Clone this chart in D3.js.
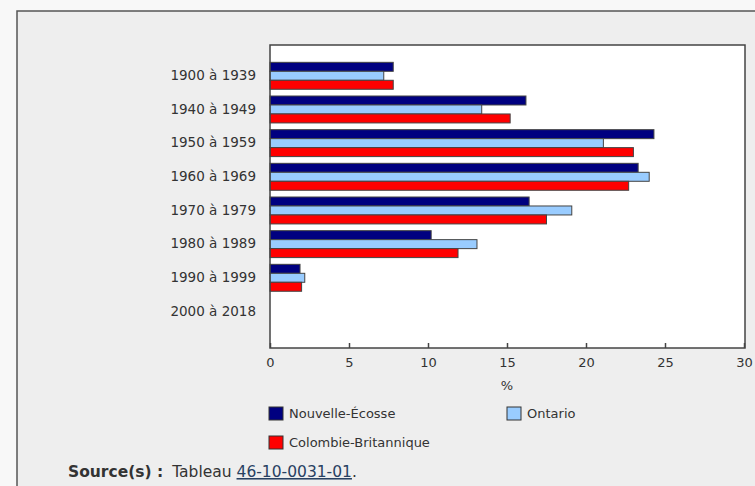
<!DOCTYPE html>
<html>
<head>
<meta charset="utf-8">
<script src="https://cdn.jsdelivr.net/npm/d3@7"></script>
<style>
  body { margin: 0; background: #f8f8f8; }
  svg { display: block; }
</style>
</head>
<body>
<svg id="chart" width="755" height="486"></svg>
<script>
// periods on the y axis
const periods = ["1900 à 1939", "1940 à 1949", "1950 à 1959", "1960 à 1969",
  "1970 à 1979", "1980 à 1989", "1990 à 1999", "2000 à 2018"];
const seriesNames = ["Nouvelle-Écosse", "Ontario", "Colombie-Britannique"];
const novaScotia = [7.8, 16.2, 24.3, 23.3, 16.4, 10.2, 1.9, null];
const ontario = [7.2, 13.4, 21.1, 24.0, 19.1, 13.1, 2.2, null];
const britishColumbia = [7.8, 15.2, 23.0, 22.7, 17.5, 11.9, 2.0, null];
const xTicks = [0, 5, 10, 15, 20, 25, 30];
const colors = ["#000080", "#99ccff", "#ff0000"];

const seriesValues = [novaScotia, ontario, britishColumbia];
const rows = periods.map((p, i) => ({
  period: p,
  values: seriesNames.map((name, j) => ({ name, value: seriesValues[j][i] }))
}));

const plot = { left: 270, right: 745, top: 45, bottom: 348 };
const textColor = "#333";

const svg = d3.select("#chart");

// panel
svg.append("rect")
  .attr("x", 17).attr("y", 11)
  .attr("width", 760).attr("height", 500)
  .attr("fill", "#eeeeee")
  .attr("stroke", "#555").attr("stroke-width", 1.5);

const x = d3.scaleLinear()
  .domain([0, 30])
  .range([plot.left, plot.left + 474]);

const y = d3.scaleBand()
  .domain(periods)
  .range([plot.top, plot.bottom])
  .paddingInner(0)
  .paddingOuter(0.5);

const ySub = d3.scaleBand()
  .domain(seriesNames)
  .range([0, y.bandwidth() * 0.8]);

const color = d3.scaleOrdinal().domain(seriesNames).range(colors);

// plot area
svg.append("rect")
  .attr("x", plot.left).attr("y", plot.top)
  .attr("width", plot.right - plot.left).attr("height", plot.bottom - plot.top)
  .attr("fill", "#fff");

// bars
svg.append("g")
  .selectAll("g")
  .data(rows)
  .join("g")
  .attr("transform", d => `translate(0,${y(d.period)})`)
  .selectAll("rect")
  .data(d => d.values.filter(v => v.value != null))
  .join("rect")
  .attr("x", x(0))
  .attr("y", d => ySub(d.name) + 0.5)
  .attr("width", d => x(d.value) - x(0))
  .attr("height", ySub.bandwidth())
  .attr("fill", d => color(d.name))
  .attr("stroke", "#444")
  .attr("stroke-width", 1);

// plot border
svg.append("rect")
  .attr("x", plot.left).attr("y", plot.top)
  .attr("width", plot.right - plot.left).attr("height", plot.bottom - plot.top)
  .attr("fill", "none")
  .attr("stroke", "#444").attr("stroke-width", 1.5);

// x axis, ticks pointing inward
const xAxis = svg.append("g")
  .attr("transform", `translate(0,${plot.bottom})`)
  .call(d3.axisBottom(x).tickValues(xTicks).tickSizeInner(-5).tickSizeOuter(0).tickPadding(10));
xAxis.select(".domain").remove();
xAxis.selectAll("line").attr("stroke", "#444").attr("stroke-width", 1.5);
xAxis.selectAll("text")
  .attr("fill", textColor)
  .attr("font-family", "DejaVu Sans")
  .attr("font-size", 13);

svg.append("text")
  .attr("x", 507).attr("y", 390)
  .attr("text-anchor", "middle")
  .attr("fill", textColor)
  .attr("font-family", "DejaVu Sans")
  .attr("font-size", 13)
  .text("%");

// y labels, centred on each bar group
svg.append("g")
  .selectAll("text")
  .data(periods)
  .join("text")
  .attr("x", plot.left - 14)
  .attr("y", d => y(d) + y.bandwidth() * 0.4)
  .attr("dy", "0.35em")
  .attr("text-anchor", "end")
  .attr("fill", textColor)
  .attr("font-family", "DejaVu Sans")
  .attr("font-size", 13.5)
  .text(d => d);

// legend
const legendPos = [[269, 407], [507, 407], [269, 436]];
const legend = svg.append("g")
  .selectAll("g")
  .data(seriesNames)
  .join("g")
  .attr("transform", (d, i) => `translate(${legendPos[i][0]},${legendPos[i][1]})`);
legend.append("rect")
  .attr("width", 14).attr("height", 13)
  .attr("fill", d => color(d))
  .attr("stroke", "#333").attr("stroke-width", 1);
legend.append("text")
  .attr("x", 20).attr("y", 6.5)
  .attr("dy", "0.35em")
  .attr("fill", textColor)
  .attr("font-family", "DejaVu Sans")
  .attr("font-size", 13)
  .text(d => d);

// source line
const source = svg.append("text")
  .attr("x", 68).attr("y", 477)
  .attr("fill", textColor)
  .attr("font-family", "DejaVu Sans")
  .attr("font-size", 15.5);
source.append("tspan").attr("font-weight", "bold").text("Source(s) :");
source.append("tspan").attr("dx", 9).text("Tableau ");
source.append("tspan")
  .attr("fill", "#284162")
  .attr("text-decoration", "underline")
  .text("46-10-0031-01");
source.append("tspan").text(".");
</script>
</body>
</html>
